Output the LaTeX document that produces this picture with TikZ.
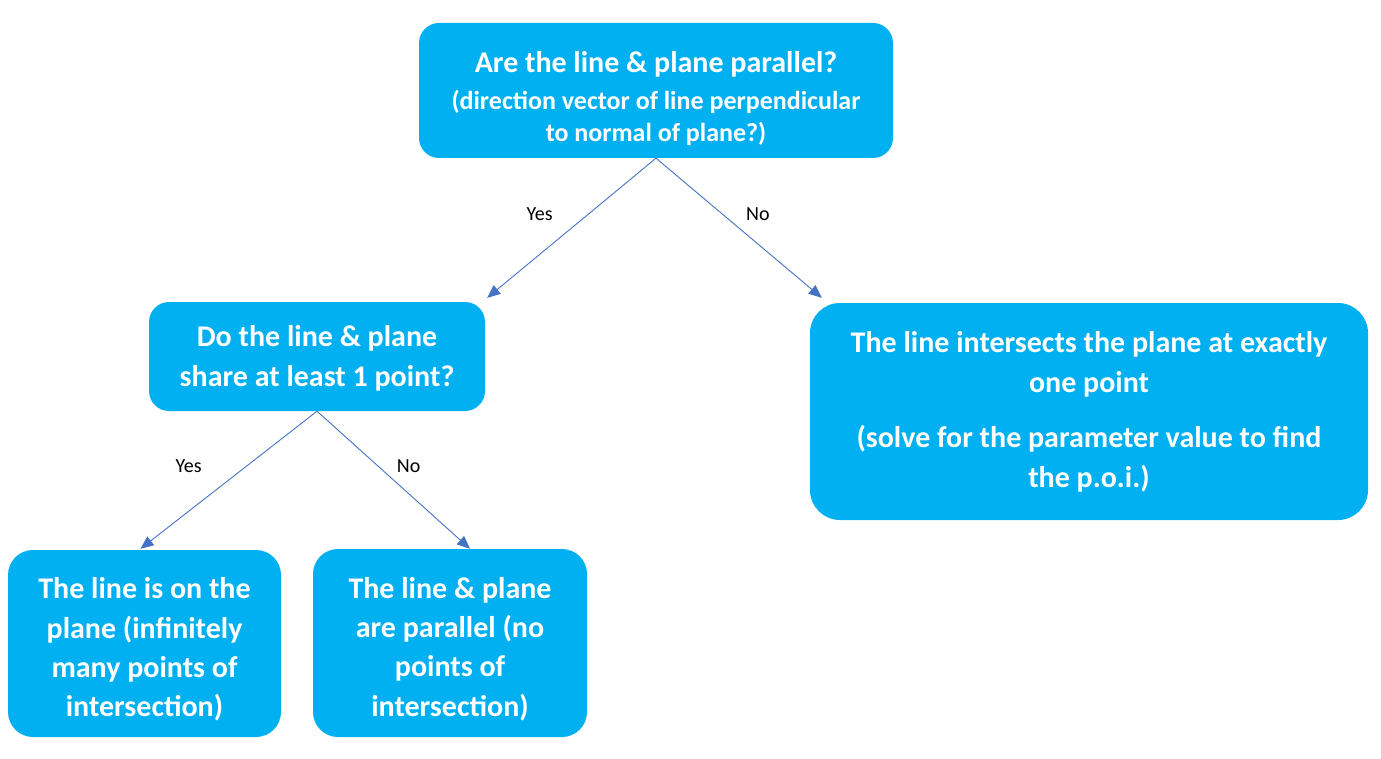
\documentclass[tikz,border=0pt]{standalone}
\usepackage{fontspec}
\setmainfont{Carlito}
\usepackage{tikz}
\usetikzlibrary{positioning}
\usetikzlibrary{arrows.meta}

\definecolor{boxcyan}{HTML}{00B0F0}
\definecolor{linkblue}{HTML}{4472C4}

\tikzset{
  qbox/.style={fill=boxcyan, draw=none, text=white, align=center,
    font=\bfseries\fontsize{30}{40}\selectfont, inner sep=0pt},
  link/.style={draw=linkblue, line width=0.9pt,
    -{Triangle[length=13pt,width=11pt]}},
  lbl/.style={font=\fontsize{20}{24}\selectfont, text=black}
}
\newcommand{\topstrut}[1]{\rule{0pt}{#1}}

\begin{document}
\begin{tikzpicture}[x=1pt,y=-1pt]

\useasboundingbox (0,0) rectangle (1381,759);

% question boxes
\node (parallel) at (656,90.5) [qbox, minimum width=474pt, minimum height=135pt, rounded corners=20pt]
  {\topstrut{37pt}Are the line \& plane parallel?\\[-3pt]
   {\fontsize{26}{35}\selectfont (direction vector of line perpendicular}\\[-8pt]
   {\fontsize{26}{35}\selectfont to normal of plane?)}};
\node (share) at (317,356.5) [qbox, minimum width=336pt, minimum height=109pt, rounded corners=20pt]
  {\topstrut{25pt}Do the line \& plane\\share at least 1 point?};

% answer boxes
\node (intersect) at (1089,411.5) [qbox, minimum width=558pt, minimum height=217pt, rounded corners=30pt]
  {The line intersects the plane at exactly\\one point\\[15pt]
   (solve for the parameter value to find\\the p.o.i.)};
\node (onplane) at (144.5,643.5) [qbox, minimum width=273pt, minimum height=187pt, rounded corners=25pt,
  font=\bfseries\fontsize{30}{39.3}\selectfont]
  {\topstrut{33pt}The line is on the\\plane (infinitely\\many points of\\intersection)};
\node (noint) at (450,643) [qbox, minimum width=274pt, minimum height=188pt, rounded corners=25pt,
  font=\bfseries\fontsize{30}{39.3}\selectfont]
  {\topstrut{33pt}The line \& plane\\are parallel (no\\points of\\intersection)};

% connectors
\draw[link] (parallel.south) -- node[lbl, pos=0.4, left=32pt] {Yes} ([shift={(2,-4)}]share.north east);
\draw[link] (parallel.south) -- node[lbl, pos=0.4, right=20pt] {No} ([shift={(12,-5)}]intersect.north west);
\draw[link] (share.south) -- node[lbl, pos=0.4, left=41pt] {Yes} ([shift={(-4,-1)}]onplane.north);
\draw[link] (share.south) -- node[lbl, pos=0.4, right=15pt] {No} ([shift={(20,0)}]noint.north);

\end{tikzpicture}
\end{document}
